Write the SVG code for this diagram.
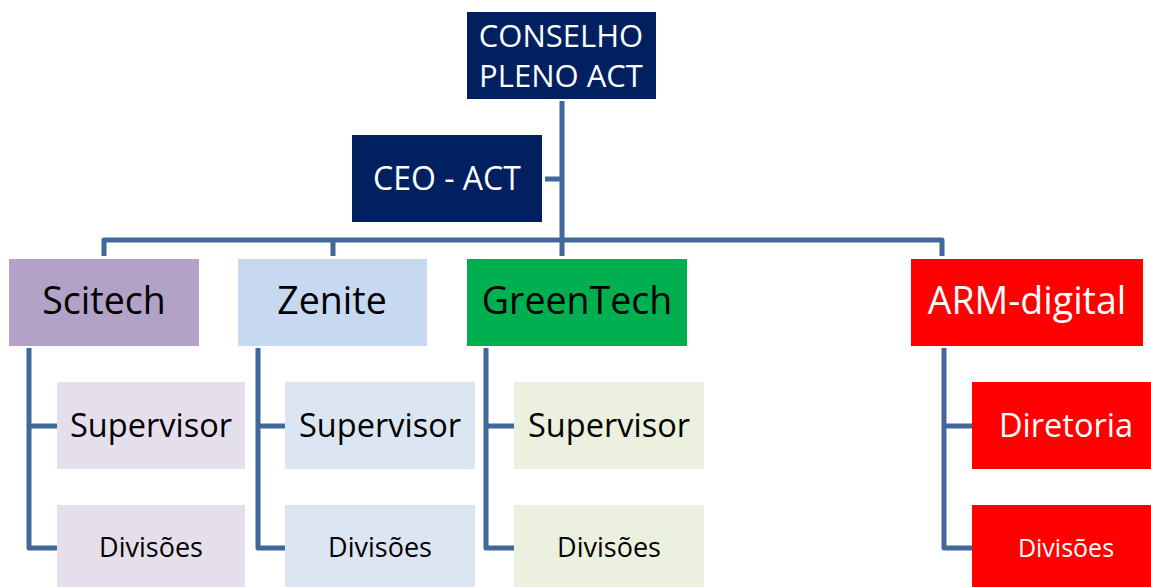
<svg xmlns="http://www.w3.org/2000/svg" width="1151" height="587" viewBox="0 0 1151 587">
<style>
.t{font-family:"Open Sans","Liberation Sans",sans-serif;text-anchor:middle}
.w{fill:#fff}
.k{fill:#000}
.h{font-size:37.5px}
.s{font-size:32.5px}
.d{font-size:27px}
.c{fill:none;stroke:#41689B;stroke-width:5;stroke-linejoin:round}
</style>
<rect width="1151" height="587" fill="#fff"/>
<g id="connectors">
<path class="c" d="M562 101V256"/>
<path class="c" d="M545 179H562"/>
<path class="c" d="M104 256V240H942V256"/>
<path class="c" d="M333 240V256"/>
<path class="c" d="M29 348V548H57M29 426H57"/>
<path class="c" d="M258 348V548H286M258 426H286"/>
<path class="c" d="M486 348V548H514M486 426H514"/>
<path class="c" d="M944 348V548H972M944 426H972"/>
</g>
<g id="conselho"><rect x="467" y="12" width="189" height="87" fill="#002060"/><text class="t w" x="561" y="47" font-size="31">CONSELHO</text><text class="t w" x="561" y="87" font-size="31">PLENO ACT</text></g>
<g id="ceo"><rect x="352" y="135" width="190" height="87" fill="#002060"/><text class="t w" x="447" y="190" font-size="32">CEO - ACT</text></g>
<g id="scitech"><rect x="9" y="259" width="190" height="87" fill="#B3A2C7"/><text class="t k h" x="104" y="314">Scitech</text></g>
<g id="scitech-supervisor"><rect x="57" y="382" width="188" height="87" fill="#E5DFEC"/><text class="t k s" x="151" y="437">Supervisor</text></g>
<g id="scitech-divisoes"><rect x="57" y="505" width="188" height="82" fill="#E5DFEC"/><text class="t k d" x="151" y="557">Divisões</text></g>
<g id="zenite"><rect x="238" y="259" width="189" height="87" fill="#C6D9F1"/><text class="t k h" x="332" y="314">Zenite</text></g>
<g id="zenite-supervisor"><rect x="285" y="382" width="190" height="87" fill="#DCE6F2"/><text class="t k s" x="380" y="437">Supervisor</text></g>
<g id="zenite-divisoes"><rect x="285" y="505" width="190" height="82" fill="#DCE6F2"/><text class="t k d" x="380" y="557">Divisões</text></g>
<g id="greentech"><rect x="467" y="259" width="220" height="87" fill="#00B050"/><text class="t k h" x="577" y="314">GreenTech</text></g>
<g id="greentech-supervisor"><rect x="514" y="382" width="190" height="87" fill="#EBF1DE"/><text class="t k s" x="609" y="437">Supervisor</text></g>
<g id="greentech-divisoes"><rect x="514" y="505" width="190" height="82" fill="#EBF1DE"/><text class="t k d" x="609" y="557">Divisões</text></g>
<g id="arm"><rect x="911" y="259" width="232" height="87" fill="#FF0000"/><text class="t w h" x="1027" y="314">ARM-digital</text></g>
<g id="arm-diretoria"><rect x="972" y="382" width="179" height="87" fill="#FF0000"/><text class="t w s" x="1066" y="437">Diretoria</text></g>
<g id="arm-divisoes"><rect x="972" y="505" width="179" height="82" fill="#FF0000"/><text class="t w" x="1066" y="557" font-size="25">Divisões</text></g>
</svg>
